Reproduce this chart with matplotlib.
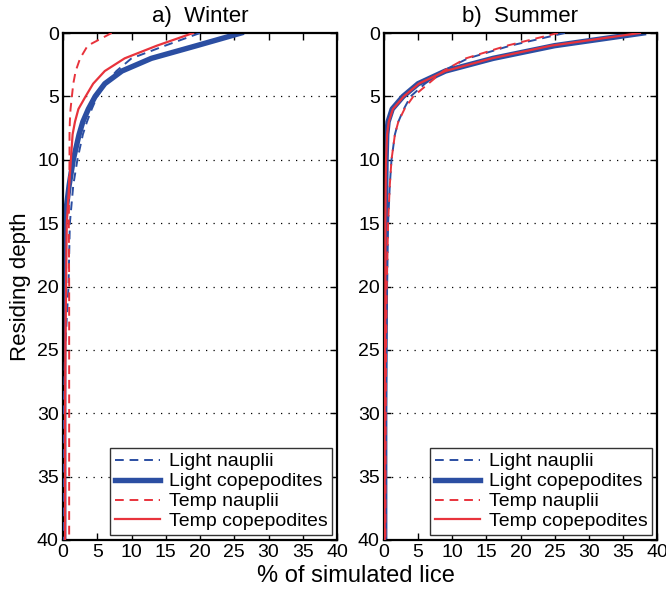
import matplotlib
matplotlib.use("Agg")
import matplotlib.pyplot as plt

plt.rcParams['font.family'] = ['Liberation Sans', 'DejaVu Sans']

depth = [0, 1, 2, 3, 4, 5, 6, 7, 8, 10, 12, 15, 20, 25, 30, 40]

# Winter
w_light_naup = [20, 14.9, 10.0, 7.8, 6.2, 5.0, 4.2, 3.5, 2.9, 2.1, 1.5, 1.0, 0.8, 0.3, 0.1, 0.1]
w_light_cope = [26, 19.5, 12.9, 8.6, 6.1, 4.7, 3.7, 2.9, 2.35, 1.5, 0.9, 0.2, 0.1, 0.1, 0.1, 0.1]
w_temp_naup = [7.1, 3.6, 2.5, 1.85, 1.5, 1.3, 1.1, 1.0, 0.95, 0.95, 0.9, 0.85, 0.9, 0.9, 0.9, 0.9]
w_temp_cope = [19, 13.7, 9.0, 6.1, 4.4, 3.3, 2.25, 1.75, 1.4, 1.15, 0.9, 0.55, 0.45, 0.35, 0.3, 0.3]

# Summer
s_light_naup = [26.5, 18.5, 12.3, 8.6, 6.0, 3.9, 2.9, 2.1, 1.6, 1.1, 0.85, 0.6, 0.45, 0.3, 0.25, 0.2]
s_light_cope = [38, 25, 16, 9.0, 5.0, 2.8, 1.2, 0.6, 0.4, 0.3, 0.25, 0.2, 0.2, 0.15, 0.1, 0.1]
s_temp_naup = [25.5, 18.0, 12.0, 8.7, 6.5, 4.3, 3.0, 2.1, 1.6, 1.1, 0.85, 0.6, 0.4, 0.3, 0.25, 0.2]
s_temp_cope = [37.5, 24.5, 15.8, 9.0, 5.1, 2.9, 1.3, 0.7, 0.45, 0.3, 0.25, 0.2, 0.2, 0.15, 0.1, 0.1]

titles = ['a)  Winter', 'b)  Summer']
labels = ['Light nauplii', 'Light copepodites', 'Temp nauplii', 'Temp copepodites']
xticks = [0, 5, 10, 15, 20, 25, 30, 35, 40]
yticks = [0, 5, 10, 15, 20, 25, 30, 35, 40]

BLUE = '#2b4ea2'
RED = '#e8333c'

fig = plt.figure(figsize=(6.66, 5.89), dpi=100)
H = 540 - 33
axes = [fig.add_axes([63/666, 1 - 540/589, 274/666, H/589]),
        fig.add_axes([384/666, 1 - 540/589, 273/666, H/589])]

data = [(w_light_naup, w_light_cope, w_temp_naup, w_temp_cope),
        (s_light_naup, s_light_cope, s_temp_naup, s_temp_cope)]

for ax, title, (ln, lc, tn, tc) in zip(axes, titles, data):
    dash = (0, (4.5, 3))
    ax.plot(ln, depth, color=BLUE, lw=1.4, linestyle=dash, label=labels[0], zorder=3)
    ax.plot(lc, depth, color=BLUE, lw=3.9, label=labels[1], zorder=2)
    ax.plot(tn, depth, color=RED, lw=1.4, linestyle=dash, label=labels[2], zorder=4)
    ax.plot(tc, depth, color=RED, lw=1.6, label=labels[3], zorder=5)
    ax.set_xlim(0, 40)
    ax.set_ylim(40, 0)
    ax.set_xticks(xticks)
    ax.set_yticks(yticks)
    ax.tick_params(direction='in', top=True, right=True, length=5, width=1,
                   labelsize=14, pad=3)
    for s in ax.spines.values():
        s.set_linewidth(1.6)
    for y in yticks[1:-1]:
        ax.axhline(y, color='black', lw=0.9, linestyle=(0, (1, 5)), zorder=1)
    ax.set_title(title, fontsize=16, pad=8)
    leg = ax.legend(loc='lower right', fontsize=14, handlelength=2.3,
                    handletextpad=0.45, labelspacing=0.12, borderpad=0.25,
                    borderaxespad=0.25, fancybox=False, framealpha=1)
    leg.get_frame().set_edgecolor('#333333')
    leg.get_frame().set_linewidth(1.0)

axes[0].set_ylabel('Residing depth', fontsize=16, labelpad=4)
fig.text(356/666, 1 - 576/589, '% of simulated lice', ha='center', va='center', fontsize=17)

fig.savefig('out.png', dpi=100)
